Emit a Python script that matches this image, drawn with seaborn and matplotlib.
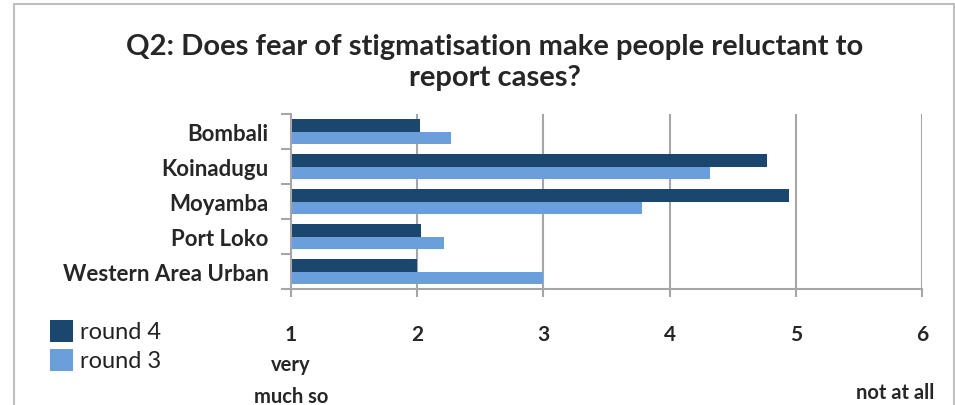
import matplotlib
matplotlib.use("Agg")
import matplotlib.pyplot as plt
import numpy as np
import pandas as pd
import seaborn as sns
from matplotlib.patches import Rectangle

districts = ["Bombali", "Koinadugu", "Moyamba", "Port Loko", "Western Area Urban"]
round4 = [2.02, 4.77, 4.95, 2.03, 2.0]
round3 = [2.27, 4.32, 3.78, 2.21, 3.0]
rounds = ["round 4", "round 3"]
x_ticks = [1, 2, 3, 4, 5, 6]
title = "Q2: Does fear of stigmatisation make people reluctant to\nreport cases?"

df = pd.DataFrame({
    "district": districts * 2,
    "score": round4 + round3,
    "round": ["round 4"] * len(districts) + ["round 3"] * len(districts),
})

sns.set_style("white")
plt.rcParams["font.family"] = ["Lato", "DejaVu Sans"]

colors = {"round 4": "#1b476e", "round 3": "#6a9fdc"}
grid_col = "#a6a6a6"

fig = plt.figure(figsize=(9.55, 4.06), dpi=100)
ax = fig.add_axes([0.3047, 0.2857, 0.6607, 0.431])

sns.barplot(
    data=df, y="district", x="score", hue="round",
    hue_order=rounds, order=districts, palette=colors,
    orient="h", width=0.7, ax=ax, legend=False,
    edgecolor="none", saturation=1,
)

ax.set_xlim(1, 6)
ax.set_ylim(len(districts) - 0.5, -0.5)
ax.set_xticks(x_ticks)
ax.set_xticklabels([str(t) for t in x_ticks], fontsize=15, fontweight="bold")
ax.tick_params(axis="x", length=6, width=1.5, color=grid_col, pad=19, bottom=True)
ax.set_yticks(range(len(districts)))
ax.set_yticklabels(districts, fontsize=16, fontweight="bold")
ax.tick_params(axis="y", length=0, pad=16)
ax.set_yticks(np.arange(-0.5, len(districts)), minor=True)
ax.tick_params(axis="y", which="minor", length=7, width=1.5, color=grid_col, left=True)
ax.set_xlabel("")
ax.set_ylabel("")

ax.grid(axis="x", color=grid_col, linewidth=1.5)
ax.set_axisbelow(True)
for s in ["top", "right"]:
    ax.spines[s].set_visible(False)
for s in ["left", "bottom"]:
    ax.spines[s].set_color(grid_col)
    ax.spines[s].set_linewidth(1.5)

fig.text(0.518, 0.846, title, ha="center", va="center", fontsize=21,
         fontweight="bold", linespacing=1.22)

ax.text(1, -0.37, "very\nmuch so", transform=ax.get_xaxis_transform(),
        ha="center", va="top", fontsize=14.5, fontweight="bold", linespacing=1.75)
ax.text(6.1, -0.53, "not at all", transform=ax.get_xaxis_transform(),
        ha="right", va="top", fontsize=14.5, fontweight="bold")

# legend at the lower left
for i, r in enumerate(rounds):
    y = 0.155 - i * 0.072
    fig.patches.append(Rectangle((0.052, y), 0.024, 0.054, transform=fig.transFigure,
                                 facecolor=colors[r], edgecolor="none"))
    fig.text(0.084, y + 0.027, r, ha="left", va="center", fontsize=17, color="#222222")

# outer frame
fig.patches.append(Rectangle((0.015, -0.05), 0.984, 1.038, transform=fig.transFigure,
                             facecolor="none", edgecolor="#bfbfbf", linewidth=1.5))

fig.savefig("out.png", dpi=100)
